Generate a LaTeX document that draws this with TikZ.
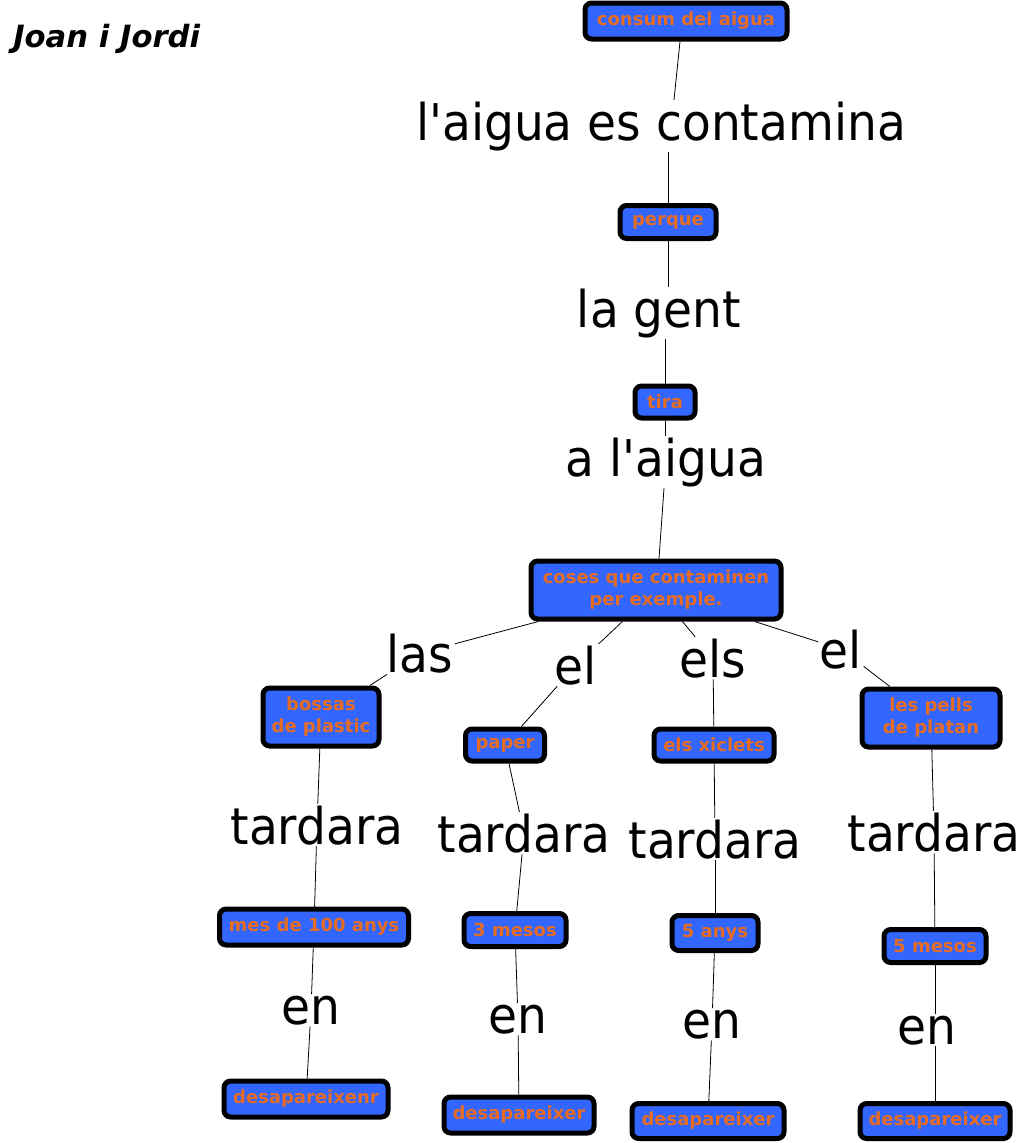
\documentclass[tikz,border=0pt]{standalone}
\usepackage{fontspec}
\setmainfont{DejaVu Sans}
\newfontfamily\lblfont[FakeStretch=0.93]{DejaVu Sans}
\definecolor{boxblue}{RGB}{51,102,255}
\definecolor{boxtext}{RGB}{230,108,36}
\tikzset{
  cbox/.style={draw=black, line width=3.75pt, rounded corners=5pt, fill=boxblue,
    text=boxtext, font=\fontsize{13.5}{16.5}\selectfont\bfseries, align=center, inner sep=0pt},
  lbl/.style={font=\lblfont\fontsize{38}{38}\selectfont, inner sep=1pt, anchor=base},
  conn/.style={draw=black, line width=0.6pt},
}
\begin{document}
\begin{tikzpicture}[x=0.75pt,y=-0.75pt]
\useasboundingbox (0,0) rectangle (1025,1143);
\node[font=\fontsize{23}{25}\selectfont\bfseries\itshape, anchor=base west, inner sep=0pt] (title) at (13,47) {Joan i Jordi};

\node[cbox, minimum width=151.5pt, minimum height=27pt] (n1) at (686,21) {consum del aigua};
\node[lbl] (l1) at (661,140) {l'aigua es contamina};
\node[cbox, minimum width=72pt, minimum height=24.75pt] (n2) at (668,222) {perque};
\node[lbl] (l2) at (659,327) {la gent};
\node[cbox, minimum width=45pt, minimum height=24pt] (n3) at (665,402) {tira};
\node[lbl] (l3) at (666,476) {a l'aigua};
\node[cbox, minimum width=187.5pt, minimum height=43.5pt] (n4) at (656,590) {coses que contaminen\\per exemple.};

\node[lbl] (a1) at (420,672) {las};
\node[lbl] (a2) at (576,684) {el};
\node[lbl] (a3) at (713,677) {els};
\node[lbl] (a4) at (841,668) {el};

\node[cbox, minimum width=87pt, minimum height=43.5pt] (b1) at (321,717) {bossas\\de plastic};
\node[cbox, minimum width=59.25pt, minimum height=24pt] (b2) at (505,745) {paper};
\node[cbox, minimum width=90pt, minimum height=24pt] (b3) at (714,745) {els xiclets};
\node[cbox, minimum width=103.5pt, minimum height=43.5pt] (b4) at (931,718) {les pells\\de platan};

\node[lbl] (t1) at (317,844) {tardara};
\node[lbl] (t2) at (524,852) {tardara};
\node[lbl] (t3) at (715,858) {tardara};
\node[lbl] (t4) at (934,851) {tardara};

\node[cbox, minimum width=141.75pt, minimum height=27pt] (c1) at (314,927) {mes de 100 anys};
\node[cbox, minimum width=76.5pt, minimum height=24.75pt] (c2) at (515,930) {3 mesos};
\node[cbox, minimum width=64.5pt, minimum height=26.25pt] (c3) at (715,933) {5 anys};
\node[cbox, minimum width=76.5pt, minimum height=24.75pt] (c4) at (935,946) {5 mesos};

\node[lbl] (e1) at (311,1024) {en};
\node[lbl] (e2) at (518,1033) {en};
\node[lbl] (e3) at (712,1038) {en};
\node[lbl] (e4) at (927,1044) {en};

\node[cbox, minimum width=123pt, minimum height=27pt] (d1) at (306,1099) {desapareixenr};
\node[cbox, minimum width=112.5pt, minimum height=27pt] (d2) at (519,1115) {desapareixer};
\node[cbox, minimum width=114pt, minimum height=26.25pt] (d3) at (708,1121) {desapareixer};
\node[cbox, minimum width=112.5pt, minimum height=26.25pt] (d4) at (935,1121) {desapareixer};

\draw[conn] ([xshift=-4.5pt]n1.south) -- ([xshift=9.75pt]l1.north);
\draw[conn] (n2.north |- l1.south) -- (n2.north);
\draw[conn] (n2.south) -- (n2.south |- l2.north);
\draw[conn] (n3.north |- l2.south) -- (n3.north);
\draw[conn] (n3.south) -- (n3.south |- l3.north);
\draw[conn] ([xshift=-1.5pt]l3.south) -- ([xshift=2.25pt]n4.north);
\draw[conn] (n4) -- (a1);
\draw[conn] (n4) -- (a2);
\draw[conn] (n4) -- (a3);
\draw[conn] (n4) -- (a4);
\draw[conn] (a1) -- (b1);
\draw[conn] (a2) -- (b2);
\draw[conn] (a3) -- (b3);
\draw[conn] (a4) -- (b4);
\draw[conn] (b1) -- (t1);
\draw[conn] (b2) -- (t2);
\draw[conn] (b3) -- (t3);
\draw[conn] (b4) -- (t4);
\draw[conn] (t1) -- (c1);
\draw[conn] (t2) -- (c2);
\draw[conn] (t3) -- (c3);
\draw[conn] (t4) -- (c4);
\draw[conn] (c1) -- (e1);
\draw[conn] (c2) -- (e2);
\draw[conn] (c3) -- (e3);
\draw[conn] (c4.south) -- (c4.south |- e4.north);
\draw[conn] (e1) -- (d1);
\draw[conn] (e2) -- (d2);
\draw[conn] (e3) -- (d3);
\draw[conn] (d4.north |- e4.south) -- (d4.north);
\end{tikzpicture}
\end{document}
